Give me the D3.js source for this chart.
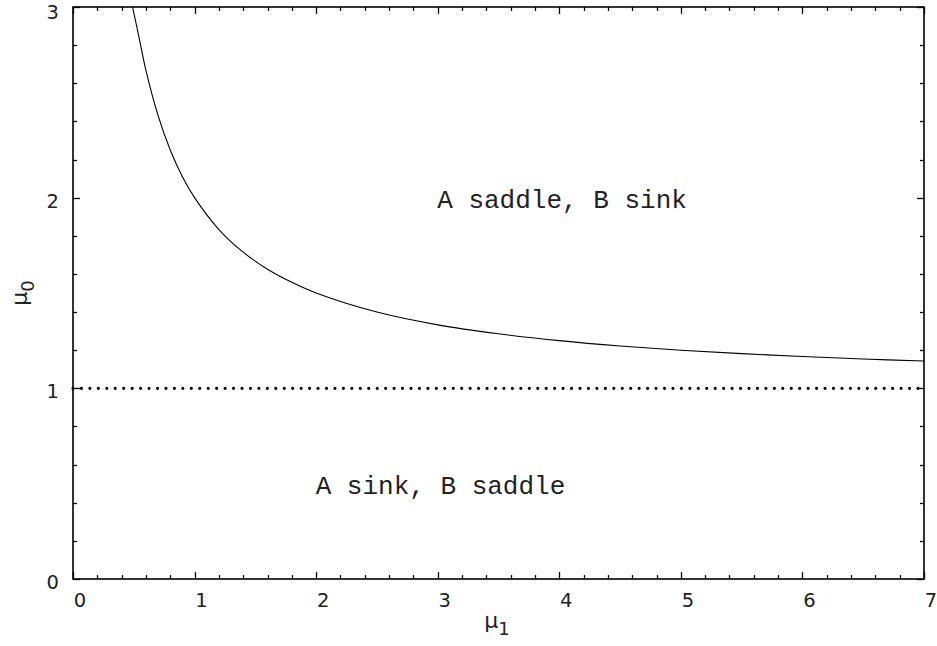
<!DOCTYPE html>
<html>
<head>
<meta charset="utf-8">
<script src="https://cdn.jsdelivr.net/npm/d3@7"></script>
<style>
html,body{margin:0;padding:0;background:#fff;}
svg{display:block;}
</style>
</head>
<body>
<svg id="chart" width="937" height="646"></svg>
<script>
// Boundary curve (mu1, mu0)
const curveMu1 = [0.49, 0.55, 0.6, 0.7, 0.8, 0.9, 1.0, 1.2, 1.4, 1.6, 1.8, 2.0, 2.5, 3.0, 3.5, 4.0, 4.5, 5.0, 5.5, 6.0, 6.5, 7.0];
const curveMu0 = [3.0, 2.82, 2.667, 2.43, 2.25, 2.11, 2.0, 1.833, 1.714, 1.625, 1.556, 1.5, 1.4, 1.333, 1.286, 1.25, 1.222, 1.2, 1.182, 1.167, 1.154, 1.143];
// Dotted horizontal line
const dottedMu0 = 1;
const xTicks = [0, 1, 2, 3, 4, 5, 6, 7];
const yTicks = [0, 1, 2, 3];
const xDomain = [0, 7];
const yDomain = [0, 3];
const regionLabels = ["A saddle, B sink", "A sink, B saddle"];
const regionPos = [[3.0, 2.0], [2.0, 0.5]];

const svg = d3.select("#chart");
const L = 73, R = 924, T = 7, B = 579;
const x = d3.scaleLinear().domain(xDomain).range([L, R]);
const y = d3.scaleLinear().domain(yDomain).range([B, T]);

const g = svg.append("g");

// minor & major ticks on all four sides (inward)
const xMinor = d3.range(0, 7.0001, 0.2);
const yMinor = d3.range(0, 3.0001, 0.2);
const major = 7, minor = 4;
const tickG = g.append("g").attr("stroke", "#000").attr("stroke-width", 1.3);
xMinor.forEach(v => {
  const isMajor = Math.abs(v - Math.round(v)) < 1e-6;
  const len = isMajor ? major : minor;
  const px = Math.round(x(v)) + 0.5;
  tickG.append("line").attr("x1", px).attr("x2", px).attr("y1", B).attr("y2", B - len);
  tickG.append("line").attr("x1", px).attr("x2", px).attr("y1", T).attr("y2", T + len);
});
yMinor.forEach(v => {
  const isMajor = Math.abs(v - Math.round(v)) < 1e-6;
  const len = isMajor ? major : minor;
  const py = Math.round(y(v)) + 0.5;
  tickG.append("line").attr("y1", py).attr("y2", py).attr("x1", L).attr("x2", L + len);
  tickG.append("line").attr("y1", py).attr("y2", py).attr("x1", R).attr("x2", R - len);
});

// frame
g.append("rect").attr("x", L).attr("y", T).attr("width", R - L).attr("height", B - T)
  .attr("fill", "none").attr("stroke", "#000").attr("stroke-width", 1.6);

// tick labels
const fontSans = "'DejaVu Sans', sans-serif";
g.selectAll(".xl").data(xTicks).enter().append("text")
  .attr("x", d => x(d) + 7).attr("y", 607)
  .attr("text-anchor", "middle").attr("font-family", fontSans).attr("font-size", 19.5)
  .attr("fill", "#222").text(d => d);
g.selectAll(".yl").data(yTicks).enter().append("text")
  .attr("x", 59).attr("y", d => Math.max(y(d) + 10, 18.5))
  .attr("text-anchor", "end").attr("font-family", fontSans).attr("font-size", 19.5)
  .attr("fill", "#222").text(d => d);

// axis titles
const xt = g.append("text").attr("x", 497).attr("y", 628).attr("text-anchor", "middle")
  .attr("font-family", fontSans).attr("font-size", 22).attr("fill", "#222");
xt.append("tspan").text("μ");
xt.append("tspan").attr("font-size", 18).attr("dy", 7).text("1");

const yt = g.append("text").attr("transform", `translate(27,${(T + B) / 2}) rotate(-90)`)
  .attr("text-anchor", "middle").attr("font-family", fontSans).attr("font-size", 22).attr("fill", "#222");
yt.append("tspan").text("μ");
yt.append("tspan").attr("font-size", 18).attr("dy", 7).text("0");

// dotted line
g.append("line").attr("x1", x(xDomain[0])).attr("x2", x(xDomain[1]))
  .attr("y1", y(dottedMu0)).attr("y2", y(dottedMu0))
  .attr("stroke", "#000").attr("stroke-width", 3.2)
  .attr("stroke-linecap", "round").attr("stroke-dasharray", "0 8.45");

// curve
const pts = curveMu1.map((v, i) => [v, curveMu0[i]]);
g.append("path").datum(pts)
  .attr("d", d3.line().x(d => x(d[0])).y(d => y(d[1])).curve(d3.curveCatmullRom))
  .attr("fill", "none").attr("stroke", "#000").attr("stroke-width", 1.1);

// region labels
g.selectAll(".rl").data(regionLabels).enter().append("text")
  .attr("x", (d, i) => x(regionPos[i][0]) - 0.5).attr("y", (d, i) => y(regionPos[i][1]) + 10)
  .attr("font-family", "'Liberation Mono', 'Courier New', monospace").attr("font-size", 26)
  .attr("fill", "#222").text(d => d);
</script>
</body>
</html>
